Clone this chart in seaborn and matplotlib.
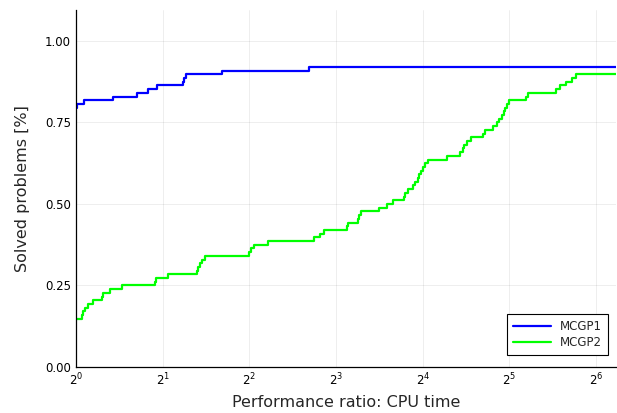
import numpy as np
import pandas as pd
import matplotlib
matplotlib.use("Agg")
import matplotlib.pyplot as plt
import seaborn as sns

N_PROBLEMS = 88
X_MAX_LOG2 = 6.23

mcgp1_log2 = [0.0, 0.012, 0.092, 0.423, 0.700, 0.834, 0.931, 1.238, 1.250, 1.266, 1.681, 2.692]
mcgp1_solved = [70, 71, 72, 73, 74, 75, 76, 77, 78, 79, 80, 81]

mcgp2_log2 = [0.0, 0.073, 0.085, 0.100, 0.142, 0.192, 0.300, 0.308, 0.392, 0.535,
              0.912, 0.923, 1.058, 1.392, 1.410, 1.430, 1.450, 1.488, 2.000, 2.020,
              2.054, 2.219, 2.750, 2.815, 2.862, 3.123, 3.140, 3.258, 3.270, 3.288,
              3.496, 3.592, 3.661, 3.784, 3.800, 3.834, 3.890, 3.912, 3.940, 3.960,
              3.980, 4.000, 4.030, 4.066, 4.277, 4.431, 4.460, 4.480, 4.508, 4.558,
              4.700, 4.715, 4.816, 4.854, 4.885, 4.910, 4.935, 4.955, 4.975, 5.000,
              5.190, 5.210, 5.534, 5.585, 5.654, 5.719, 5.773]
mcgp2_solved = list(range(13, 80))

solvers = ["MCGP1", "MCGP2"]
colors = {"MCGP1": "#0000ff", "MCGP2": "#00ff00"}

rows = []
for name, lx, sv in [("MCGP1", mcgp1_log2, mcgp1_solved), ("MCGP2", mcgp2_log2, mcgp2_solved)]:
    for a, b in zip(lx + [X_MAX_LOG2], sv + [sv[-1]]):
        rows.append({"ratio": 2.0 ** a, "solved": b / N_PROBLEMS, "solver": name})
df = pd.DataFrame(rows)

sns.set_style("white")
plt.rcParams["font.family"] = ["DejaVu Sans"]

fig = plt.figure(figsize=(6.17, 4.13), dpi=100)
ax = fig.add_axes([76 / 617, 46 / 413, 540 / 617, 357 / 413])

sns.lineplot(data=df, x="ratio", y="solved", hue="solver", hue_order=solvers,
             palette=colors, drawstyle="steps-post", estimator=None, sort=False,
             linewidth=1.6, ax=ax)

ax.set_xscale("log", base=2)
ax.set_xlim(1, 2 ** X_MAX_LOG2)
ax.set_ylim(0, 1.095)
ax.set_xticks([2 ** k for k in range(0, 7)])
ax.set_xticks([], minor=True)
ax.set_yticks([0, 0.25, 0.5, 0.75, 1.0])
ax.set_yticklabels(["0.00", "0.25", "0.50", "0.75", "1.00"])
ax.grid(True, color="black", alpha=0.08, linewidth=0.6)
for s in ["top", "right"]:
    ax.spines[s].set_visible(False)
for s in ["left", "bottom"]:
    ax.spines[s].set_color("black")
    ax.spines[s].set_linewidth(0.9)
ax.tick_params(direction="in", length=4, width=0.7, labelsize=8.5, colors="black")
ax.set_xlabel("Performance ratio: CPU time", fontsize=11.5, labelpad=5)
ax.set_ylabel("Solved problems [%]", fontsize=11.5, labelpad=11)

leg = ax.legend(loc="lower right", fontsize=8.5, frameon=True, fancybox=False,
                borderpad=0.5, handlelength=3.2, labelspacing=0.25,
                borderaxespad=0, bbox_to_anchor=(0.985, 0.034))
leg.get_frame().set_edgecolor("black")
leg.get_frame().set_linewidth(0.8)
leg.get_frame().set_alpha(1)

fig.savefig("out.png", dpi=100)
